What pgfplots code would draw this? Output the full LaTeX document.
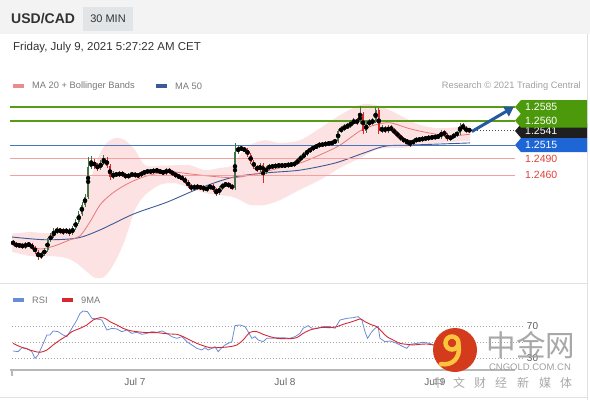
\documentclass[border=0pt]{standalone}
\usepackage{fontspec}
\setmainfont{Liberation Sans}
\newfontfamily\cjk{Noto Sans CJK SC}
\usepackage{pgfplots}
\pgfplotsset{compat=1.18}
\usepackage{pgfplotstable}
\usepgfplotslibrary{fillbetween}
\usetikzlibrary{arrows.meta}

\definecolor{hdrbg}{RGB}{243,243,243}
\definecolor{badge}{RGB}{226,229,232}
\definecolor{txtdark}{RGB}{51,51,51}
\definecolor{txtgray}{RGB}{120,120,120}
\definecolor{txtlight}{RGB}{160,160,160}
\definecolor{lvlgreen}{RGB}{88,155,24}
\definecolor{boxgreen}{RGB}{76,154,12}
\definecolor{lvlblue}{RGB}{74,118,190}
\definecolor{boxblue}{RGB}{30,102,214}
\definecolor{lvlred}{RGB}{242,160,160}
\definecolor{txtred}{RGB}{222,64,56}
\definecolor{candleup}{RGB}{70,115,70}
\definecolor{candledn}{RGB}{212,42,42}
\definecolor{bbfill}{RGB}{252,226,226}
\definecolor{ma20}{RGB}{232,120,120}
\definecolor{ma50}{RGB}{60,90,150}
\definecolor{arrowblue}{RGB}{38,88,160}
\definecolor{rsiblue}{RGB}{105,140,215}
\definecolor{rsired}{RGB}{215,40,50}
\definecolor{bordergray}{RGB}{225,225,225}
\definecolor{logored}{RGB}{212,58,28}
\definecolor{logoyellow}{RGB}{250,196,60}

\pgfplotstableread{
t o h l c
-19.5 1.2337 1.2341 1.2330 1.2333
-19 1.2333 1.2337 1.2326 1.2330
-18.5 1.2330 1.2335 1.2326 1.2331
-18 1.2331 1.2335 1.2324 1.2328
-17.5 1.2328 1.2337 1.2324 1.2333
-17 1.2333 1.2337 1.2328 1.2331
-16.5 1.2331 1.2335 1.2322 1.2326
-16 1.2326 1.2330 1.2315 1.2319
-15.5 1.2319 1.2322 1.2304 1.2309
-15 1.2309 1.2319 1.2306 1.2315
-14.5 1.2315 1.2326 1.2311 1.2322
-14 1.2322 1.2344 1.2319 1.2341
-13.5 1.2341 1.2353 1.2337 1.2348
-13 1.2348 1.2363 1.2344 1.2355
-12.5 1.2355 1.2364 1.2352 1.2359
-12 1.2359 1.2363 1.2352 1.2357
-11.5 1.2357 1.2363 1.2350 1.2355
-11 1.2355 1.2363 1.2352 1.2359
-10.5 1.2359 1.2363 1.2348 1.2353
-10 1.2353 1.2366 1.2350 1.2363
-9.5 1.2363 1.2379 1.2359 1.2374
-9 1.2374 1.2394 1.2370 1.2388
-8.5 1.2388 1.2410 1.2385 1.2405
-8 1.2405 1.2425 1.2401 1.2420
-7.5 1.2420 1.2493 1.2416 1.2475
-7 1.2475 1.2495 1.2471 1.2484
-6.5 1.2484 1.2489 1.2471 1.2477
-6 1.2477 1.2482 1.2467 1.2473
-5.5 1.2473 1.2488 1.2469 1.2482
-5 1.2482 1.2497 1.2478 1.2488
-4.5 1.2488 1.2493 1.2473 1.2477
-4 1.2477 1.2480 1.2451 1.2456
-3.5 1.2456 1.2467 1.2453 1.2462
-3 1.2462 1.2466 1.2456 1.2460
-2.5 1.2460 1.2467 1.2456 1.2464
-2 1.2464 1.2467 1.2456 1.2460
-1.5 1.2460 1.2464 1.2453 1.2456
-1 1.2456 1.2464 1.2453 1.2460
-0.5 1.2460 1.2466 1.2456 1.2462
0 1.2462 1.2466 1.2455 1.2458
0.5 1.2458 1.2464 1.2455 1.2460
1 1.2460 1.2467 1.2456 1.2464
1.5 1.2464 1.2469 1.2460 1.2466
2 1.2466 1.2471 1.2462 1.2467
2.5 1.2467 1.2471 1.2462 1.2466
3 1.2466 1.2473 1.2462 1.2469
3.5 1.2469 1.2473 1.2464 1.2467
4 1.2467 1.2471 1.2462 1.2466
4.5 1.2466 1.2469 1.2460 1.2464
5 1.2464 1.2473 1.2460 1.2469
5.5 1.2469 1.2473 1.2462 1.2466
6 1.2466 1.2469 1.2458 1.2462
6.5 1.2462 1.2466 1.2455 1.2458
7 1.2458 1.2462 1.2453 1.2456
7.5 1.2456 1.2460 1.2449 1.2453
8 1.2453 1.2456 1.2444 1.2447
8.5 1.2447 1.2451 1.2436 1.2440
9 1.2440 1.2444 1.2431 1.2434
9.5 1.2434 1.2444 1.2431 1.2440
10 1.2440 1.2444 1.2433 1.2436
10.5 1.2436 1.2442 1.2433 1.2438
11 1.2438 1.2442 1.2429 1.2433
11.5 1.2433 1.2440 1.2429 1.2436
12 1.2436 1.2444 1.2433 1.2440
12.5 1.2440 1.2444 1.2429 1.2433
13 1.2433 1.2436 1.2421 1.2427
13.5 1.2427 1.2440 1.2423 1.2436
14 1.2436 1.2445 1.2433 1.2442
14.5 1.2442 1.2447 1.2438 1.2444
15 1.2444 1.2447 1.2436 1.2440
15.5 1.2440 1.2444 1.2433 1.2436
16 1.2436 1.2519 1.2433 1.2502
16.5 1.2502 1.2515 1.2499 1.2510
17 1.2510 1.2513 1.2504 1.2508
17.5 1.2508 1.2511 1.2502 1.2506
18 1.2506 1.2510 1.2493 1.2497
18.5 1.2497 1.2500 1.2480 1.2484
19 1.2484 1.2488 1.2471 1.2475
19.5 1.2475 1.2478 1.2466 1.2469
20 1.2469 1.2482 1.2466 1.2478
20.5 1.2478 1.2482 1.2445 1.2466
21 1.2466 1.2477 1.2462 1.2473
21.5 1.2473 1.2480 1.2469 1.2477
22 1.2477 1.2480 1.2471 1.2475
22.5 1.2475 1.2482 1.2471 1.2478
23 1.2478 1.2482 1.2473 1.2477
23.5 1.2477 1.2482 1.2473 1.2478
24 1.2478 1.2482 1.2473 1.2477
24.5 1.2477 1.2484 1.2473 1.2480
25 1.2480 1.2484 1.2475 1.2478
25.5 1.2478 1.2486 1.2475 1.2482
26 1.2482 1.2491 1.2478 1.2488
26.5 1.2488 1.2497 1.2484 1.2493
27 1.2493 1.2502 1.2489 1.2499
27.5 1.2499 1.2508 1.2495 1.2504
28 1.2504 1.2511 1.2500 1.2508
28.5 1.2508 1.2515 1.2504 1.2511
29 1.2511 1.2517 1.2508 1.2513
29.5 1.2513 1.2521 1.2510 1.2517
30 1.2517 1.2521 1.2511 1.2515
30.5 1.2515 1.2523 1.2511 1.2519
31 1.2519 1.2523 1.2513 1.2517
31.5 1.2517 1.2524 1.2513 1.2521
32 1.2521 1.2526 1.2517 1.2523
32.5 1.2523 1.2545 1.2519 1.2541
33 1.2541 1.2550 1.2537 1.2545
33.5 1.2545 1.2554 1.2541 1.2548
34 1.2548 1.2556 1.2545 1.2550
34.5 1.2550 1.2561 1.2546 1.2556
35 1.2556 1.2565 1.2552 1.2559
35.5 1.2559 1.2565 1.2552 1.2557
36 1.2557 1.2587 1.2554 1.2572
36.5 1.2572 1.2576 1.2535 1.2541
37 1.2541 1.2559 1.2537 1.2554
37.5 1.2554 1.2563 1.2550 1.2557
38 1.2557 1.2565 1.2552 1.2559
38.5 1.2559 1.2585 1.2556 1.2579
39 1.2579 1.2583 1.2535 1.2541
39.5 1.2541 1.2552 1.2537 1.2546
40 1.2546 1.2550 1.2537 1.2541
40.5 1.2541 1.2552 1.2537 1.2548
41 1.2548 1.2552 1.2539 1.2543
41.5 1.2543 1.2546 1.2534 1.2537
42 1.2537 1.2541 1.2528 1.2532
42.5 1.2532 1.2535 1.2523 1.2526
43 1.2526 1.2530 1.2519 1.2523
43.5 1.2523 1.2526 1.2515 1.2521
44 1.2521 1.2524 1.2511 1.2519
44.5 1.2519 1.2526 1.2515 1.2523
45 1.2523 1.2530 1.2519 1.2526
45.5 1.2526 1.2530 1.2521 1.2524
46 1.2524 1.2532 1.2521 1.2528
46.5 1.2528 1.2532 1.2523 1.2526
47 1.2526 1.2534 1.2523 1.2530
47.5 1.2530 1.2534 1.2524 1.2528
48 1.2528 1.2535 1.2524 1.2532
48.5 1.2532 1.2535 1.2526 1.2530
49 1.2530 1.2543 1.2526 1.2539
49.5 1.2539 1.2543 1.2530 1.2534
50 1.2534 1.2537 1.2523 1.2526
50.5 1.2526 1.2534 1.2523 1.2530
51 1.2530 1.2537 1.2526 1.2534
51.5 1.2534 1.2541 1.2530 1.2537
52 1.2537 1.2556 1.2534 1.2550
52.5 1.2550 1.2556 1.2543 1.2546
53 1.2546 1.2550 1.2537 1.2541
53.5 1.2541 1.2546 1.2539 1.2543
}\candles

\pgfplotstableread{
t p
-19.7 1.2335
-17.6 1.2333
-15.2 1.2324
-12.8 1.2330
-10.4 1.2341
-8.8 1.2348
-7.2 1.2374
-5.6 1.2405
-4.0 1.2423
-2.4 1.2436
-0.3 1.2449
2.4 1.2460
5.6 1.2466
8.8 1.2462
12.0 1.2458
15.5 1.2455
17.6 1.2458
20.0 1.2464
23.2 1.2473
26.4 1.2482
29.6 1.2497
32.8 1.2515
36.0 1.2541
38.4 1.2552
40.8 1.2556
44.0 1.2545
47.2 1.2537
50.4 1.2532
53.6 1.2535
}\maTwenty

\pgfplotstableread{
t p
-19.7 1.2346
-14.4 1.2341
-9.3 1.2344
-5.6 1.2359
-0.3 1.2388
5.1 1.2410
10.4 1.2436
15.7 1.2456
21.1 1.2464
26.4 1.2469
32.0 1.2482
36.5 1.2500
40.0 1.2513
44.0 1.2515
48.8 1.2517
53.6 1.2519
}\maFifty

\pgfplotstableread{
t p
-19.68 1.2352
-16.8 1.2355
-13.6 1.2353
-11.2 1.2359
-9.6 1.2363
-8 1.2414
-6.4 1.2478
-4.8 1.2515
-3.2 1.2528
-1.6 1.2524
0 1.2506
1.6 1.2478
4 1.2477
6.4 1.2478
8.8 1.2478
11.2 1.2469
13.6 1.2473
15.52 1.2477
16.8 1.2497
18.4 1.2515
20.8 1.2524
23.2 1.2519
26.4 1.2524
29.6 1.2546
32.8 1.2570
36 1.2589
38.4 1.2589
40.8 1.2579
43.2 1.2565
45.6 1.2552
48.8 1.2546
53.6 1.2550
}\bbUpper

\pgfplotstableread{
t p
-19.68 1.2319
-16.8 1.2311
-13.6 1.2311
-11.2 1.2308
-9.6 1.2300
-8 1.2285
-6.4 1.2271
-4.8 1.2274
-3.2 1.2300
-1.6 1.2341
0 1.2396
1.6 1.2423
4 1.2442
6.4 1.2445
8.8 1.2436
11.2 1.2427
13.6 1.2423
15.52 1.2420
16.8 1.2414
18.4 1.2405
20.8 1.2405
23.2 1.2414
26.4 1.2433
29.6 1.2451
32.8 1.2473
36 1.2491
38.4 1.2506
40.8 1.2510
43.2 1.2510
45.6 1.2515
48.8 1.2519
53.6 1.2523
}\bbLower

\pgfplotstableread{
t r
-19.5 38.8
-18.7 37.9
-18.1 42.9
-17.3 42.1
-16.5 37.9
-16 29.6
-15.5 33.8
-14.9 44.2
-14.1 58.8
-13.6 58.8
-13.1 63.8
-12.3 62.9
-11.5 58.8
-10.9 56.7
-10.1 67.1
-9.3 77.5
-8.8 85.8
-8.3 88.8
-7.6 87.9
-6.9 79.6
-6.1 78.8
-5.3 77.5
-4.5 65.0
-3.7 67.1
-2.9 66.3
-2.1 62.9
-1.3 65.0
-0.5 60.8
0.3 62.1
1.1 59.6
1.9 60.8
2.7 62.9
3.5 62.1
4.3 63.8
5.1 60.8
5.9 56.7
6.7 54.6
7.5 56.7
8.3 50.4
9.1 46.3
9.9 42.1
10.7 40.0
11.2 42.9
11.7 40.0
12.3 42.1
12.8 44.2
13.3 37.9
13.9 42.9
14.4 46.3
14.9 48.3
15.5 50.4
16.0 70.4
16.8 71.3
17.6 69.2
18.1 62.9
18.7 54.6
19.2 56.7
19.7 52.5
20.5 50.4
21.1 54.6
21.9 54.6
22.7 55.4
23.7 55.4
24.8 54.6
25.6 56.7
26.4 60.8
26.9 67.1
27.7 70.4
28.3 67.1
29.1 67.1
30.1 69.2
31.2 69.2
32.0 67.1
32.8 77.5
33.9 79.6
34.9 80.4
35.7 81.7
36.3 77.5
36.8 62.9
37.2 54.6
37.9 62.9
38.4 67.1
38.9 69.2
39.2 54.6
40.0 50.4
40.8 51.3
41.9 48.3
42.9 44.2
43.5 42.1
44.0 47.1
45.1 48.3
46.1 49.6
47.2 48.3
47.7 46.3
48.8 47.0
50.4 50.0
51.7 57.0
52.8 55.0
53.6 53.0
}\rsi

\pgfplotstableread{
t r
-19.5 48.3
-18.4 44.2
-17.3 41.3
-16.3 38.8
-15.2 37.1
-14.1 40.0
-13.1 46.3
-12.0 52.5
-10.9 57.9
-10.1 62.9
-8.8 67.1
-7.7 71.3
-6.7 77.5
-5.6 80.4
-4.8 79.6
-4.0 75.4
-2.9 71.3
-1.9 67.1
-0.8 64.2
0.3 62.9
1.3 62.1
2.4 61.7
3.5 61.7
4.5 60.8
5.6 60.0
6.7 59.6
7.7 56.7
8.8 52.5
9.9 48.3
10.9 45.4
12.0 42.9
13.1 42.9
14.1 43.3
15.2 44.2
16.3 46.3
17.3 52.5
18.4 62.1
19.5 62.9
20.5 59.6
21.6 56.7
22.7 54.6
23.7 54.2
24.8 54.2
25.9 55.5
26.9 60.8
28.0 65.0
29.1 67.1
30.1 68.3
31.2 67.9
32.3 69.2
33.3 72.1
34.4 74.6
35.5 77.5
36.1 78.8
36.8 75.4
37.9 71.3
38.7 69.2
39.5 62.9
40.3 56.7
41.3 52.5
42.4 48.3
43.5 47.1
44.5 46.3
45.6 47.1
46.7 47.5
47.7 46.3
48.8 46.5
50.4 47.0
52.0 48.5
53.6 50.0
}\nineMA

\pgfplotsset{
  candle/.style={only marks, mark=none, restrict y to domain=1.2:1.3,
    error bars/y dir=both, error bars/y explicit, error bars/error mark=none},
}

\begin{document}
\begin{tikzpicture}
% header
\fill[hdrbg] (0,0) rectangle (590pt,-34pt);
\fill[badge] (83pt,-7pt) rectangle (133pt,-31pt);
\node[anchor=west, inner sep=0, font=\fontsize{14}{16}\selectfont\bfseries, text=txtdark] at (11pt,-19pt) {USD/CAD};
\node[inner sep=0, font=\fontsize{11}{13}\selectfont, text=txtdark] at (108pt,-19pt) {30 MIN};
\node[anchor=west, inner sep=0, font=\fontsize{11.5}{14}\selectfont, text=txtdark] at (13pt,-48pt) {Friday, July 9, 2021 5:27:22 AM CET};
% borders
\draw[bordergray, line width=1pt] (587pt,-34pt) -- (587pt,-400pt);
\draw[bordergray, line width=1pt] (0pt,-283pt) -- (587pt,-283pt);
\draw[bordergray, line width=1pt] (0pt,-397pt) -- (587pt,-397pt);
% main legend
\fill[ma20!85] (13pt,-84pt) rectangle (24pt,-88pt);
\node[anchor=west, inner sep=0, font=\fontsize{9.3}{11}\selectfont, text=txtgray] at (32pt,-86pt) {MA 20 + Bollinger Bands};
\fill[ma50] (156pt,-84pt) rectangle (167pt,-88pt);
\node[anchor=west, inner sep=0, font=\fontsize{9.3}{11}\selectfont, text=txtgray] at (175pt,-86pt) {MA 50};
\node[anchor=east, inner sep=0, font=\fontsize{9.3}{11}\selectfont, text=txtlight] at (581pt,-86pt) {Research © 2021 Trading Central};

\begin{axis}[
  at={(10pt,-282pt)}, anchor=south west, scale only axis,
  width=505pt, height=187pt,
  xmin=-20, xmax=60.8, ymin=1.22633, ymax=1.26071,
  axis lines=none, clip=false,
]
\addplot[name path=bbu, draw=none, smooth] table[x=t, y=p] {\bbUpper};
\addplot[name path=bbl, draw=none, smooth] table[x=t, y=p] {\bbLower};
\addplot[fill=bbfill, draw=none] fill between[of=bbu and bbl];
\addplot[ma50, line width=0.9pt, smooth] table[x=t, y=p] {\maFifty};
\addplot[ma20, line width=0.8pt, smooth] table[x=t, y=p] {\maTwenty};
% levels
\addplot[lvlred, line width=1pt] coordinates {(-20,1.2490) (60.8,1.2490)};
\addplot[lvlred, line width=1pt] coordinates {(-20,1.2460) (60.8,1.2460)};
\addplot[lvlblue, line width=1pt] coordinates {(-20,1.2515) (60.8,1.2515)};
\addplot[lvlgreen, line width=2pt] coordinates {(-20,1.2560) (60.8,1.2560)};
\addplot[lvlgreen, line width=2pt] coordinates {(-20,1.2585) (60.8,1.2585)};
\addplot[black!70, line width=1pt, dash pattern=on 1pt off 2pt] coordinates {(53.8,1.2541) (60.8,1.2541)};
% candles: wicks
\addplot[candle, error bars/error bar style={candleup, line width=0.6pt}]
  table[x=t, y expr={ifthenelse(\thisrow{c}>=\thisrow{o}, 0.5*(\thisrow{h}+\thisrow{l}), 0)}, y error expr={0.5*(\thisrow{h}-\thisrow{l})}] {\candles};
\addplot[candle, error bars/error bar style={candledn, line width=0.6pt}]
  table[x=t, y expr={ifthenelse(\thisrow{c}<\thisrow{o}, 0.5*(\thisrow{h}+\thisrow{l}), 0)}, y error expr={0.5*(\thisrow{h}-\thisrow{l})}] {\candles};
% candles: bodies
\addplot[candle, error bars/error bar style={candleup, line width=2pt}]
  table[x=t, y expr={ifthenelse(\thisrow{c}>=\thisrow{o}, 0.5*(\thisrow{o}+\thisrow{c}), 0)}, y error expr={0.5*abs(\thisrow{c}-\thisrow{o})}] {\candles};
\addplot[candle, error bars/error bar style={candledn, line width=2pt}]
  table[x=t, y expr={ifthenelse(\thisrow{c}<\thisrow{o}, 0.5*(\thisrow{o}+\thisrow{c}), 0)}, y error expr={0.5*abs(\thisrow{c}-\thisrow{o})}] {\candles};
% arrow
\draw[arrowblue, line width=3pt, -{Triangle[length=9pt,width=11pt]}] (axis cs:53.9,1.2540) -- (axis cs:60.6,1.2585);
% right labels
\fill[black!88] (axis cs:60.8,1.2541) -- ++(6pt,7pt) -- ++(66pt,0pt) -- ++(0pt,-14pt) -- ++(-66pt,0pt) -- cycle;
\node[anchor=west, inner sep=0, text=white, font=\fontsize{10.5}{12}\selectfont] at ([xshift=10pt]axis cs:60.8,1.2541) {1.2541};
\fill[boxgreen] (axis cs:60.8,1.2585) -- ++(6pt,7pt) -- ++(66pt,0pt) -- ++(0pt,-14pt) -- ++(-66pt,0pt) -- cycle;
\node[anchor=west, inner sep=0, text=white, font=\fontsize{10.5}{12}\selectfont] at ([xshift=10pt]axis cs:60.8,1.2585) {1.2585};
\fill[boxgreen] (axis cs:60.8,1.2560) -- ++(6pt,7pt) -- ++(66pt,0pt) -- ++(0pt,-14pt) -- ++(-66pt,0pt) -- cycle;
\node[anchor=west, inner sep=0, text=white, font=\fontsize{10.5}{12}\selectfont] at ([xshift=10pt]axis cs:60.8,1.2560) {1.2560};
\fill[boxblue] (axis cs:60.8,1.2515) -- ++(6pt,7pt) -- ++(66pt,0pt) -- ++(0pt,-14pt) -- ++(-66pt,0pt) -- cycle;
\node[anchor=west, inner sep=0, text=white, font=\fontsize{10.5}{12}\selectfont] at ([xshift=10pt]axis cs:60.8,1.2515) {1.2515};
\node[anchor=west, inner sep=0, text=txtred, font=\fontsize{10.5}{12}\selectfont] at ([xshift=10pt]axis cs:60.8,1.2490) {1.2490};
\node[anchor=west, inner sep=0, text=txtred, font=\fontsize{10.5}{12}\selectfont] at ([xshift=10pt]axis cs:60.8,1.2460) {1.2460};
\end{axis}

% RSI legend
\fill[rsiblue] (13pt,-298pt) rectangle (24pt,-302pt);
\node[anchor=west, inner sep=0, font=\fontsize{9.3}{11}\selectfont, text=txtgray] at (32pt,-300pt) {RSI};
\fill[rsired] (62pt,-298pt) rectangle (73pt,-302pt);
\node[anchor=west, inner sep=0, font=\fontsize{9.3}{11}\selectfont, text=txtgray] at (81pt,-300pt) {9MA};

\begin{axis}[
  at={(10pt,-370pt)}, anchor=south west, scale only axis,
  width=505pt, height=70pt,
  xmin=-20, xmax=60.8, ymin=15, ymax=102.5,
  axis x line*=bottom, axis y line=none, clip=false,
  x axis line style={draw=black!28, line width=1.8pt, -},
  xtick={0,24,48}, xticklabels={Jul 7,Jul 8,Jul 9}, major tick length=0pt,
  xticklabel style={font=\fontsize{10}{12}\selectfont, text=black!60, yshift=-5pt},
  ytick=\empty,
]
\addplot[black!35, line width=0.8pt, dash pattern=on 1pt off 2pt] coordinates {(-19.7,70) (62.1,70)};
\addplot[black!35, line width=0.8pt, dash pattern=on 1pt off 2pt] coordinates {(-19.7,50) (62.1,50)};
\addplot[black!35, line width=0.8pt, dash pattern=on 1pt off 2pt] coordinates {(-19.7,30) (62.1,30)};
\addplot[rsiblue, line width=0.8pt] table[x=t, y=r] {\rsi};
\addplot[rsired, line width=0.9pt, smooth] table[x=t, y=r] {\nineMA};
\node[inner sep=0, font=\fontsize{10}{12}\selectfont, text=black!65] at (axis cs:63.6,70) {70};
\node[inner sep=0, font=\fontsize{10}{12}\selectfont, text=black!65] at (axis cs:63.6,30) {30};
\draw[black!28, line width=1.5pt] (axis cs:-19.7,15) -- ++(0pt,-6pt);
\end{axis}

% watermark
\fill[logored] (455pt,-350pt) circle (22pt);
\draw[logoyellow, line width=4.5pt] (452pt,-343pt) circle (6.5pt);
\draw[logoyellow, line width=4.5pt, line cap=round] (458.5pt,-345pt) .. controls (461pt,-358pt) and (452pt,-366pt) .. (441pt,-364pt);
\node[inner sep=0, font=\cjk\fontsize{29.5}{30}\selectfont, text=black!38, opacity=0.9] at (531pt,-345pt) {中金网};
\node[inner sep=0, font=\fontsize{9.5}{11}\selectfont, text=black!38] at (530pt,-367pt) {CNGOLD.COM.CN};
\foreach \ch/\xx in {中/438,文/459,财/480,经/501,新/523,媒/545,体/566}
  \node[inner sep=0, font=\cjk\fontsize{12}{13}\selectfont, text=black!40, opacity=0.85] at (\xx pt,-383pt) {\ch};

\pgfresetboundingbox
\path[use as bounding box] (0,0) rectangle (590pt,-400pt);
\end{tikzpicture}
\end{document}
